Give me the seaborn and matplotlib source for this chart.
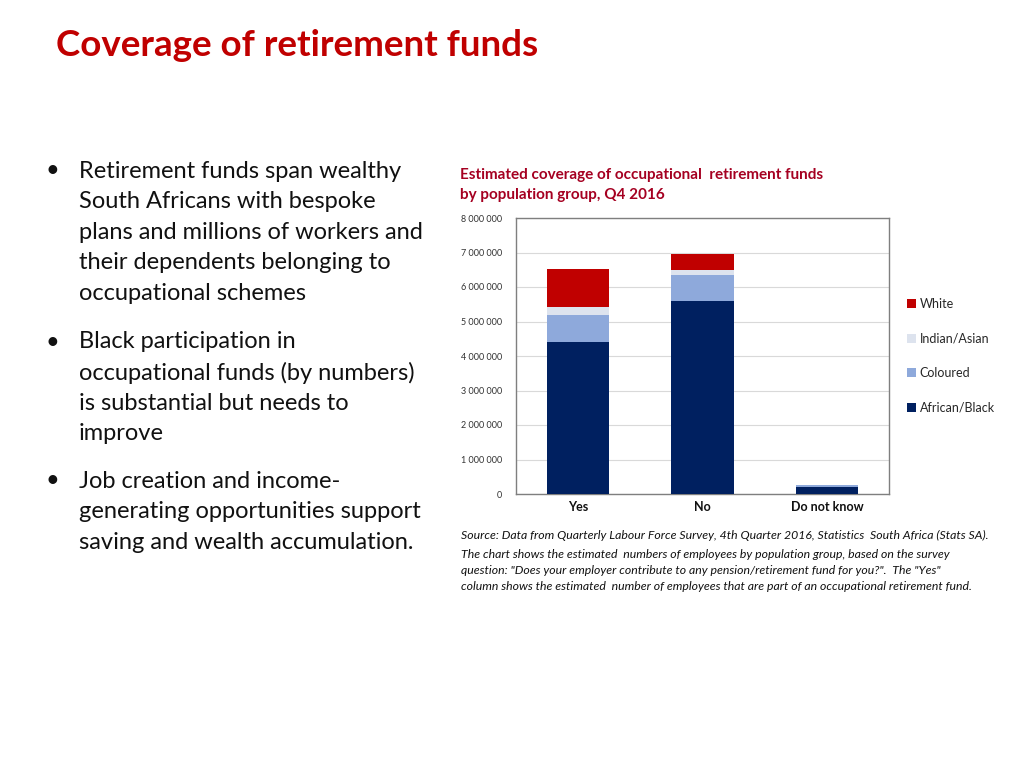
import matplotlib
matplotlib.use("Agg")
import matplotlib.pyplot as plt
import seaborn as sns
import numpy as np
import pandas as pd
from matplotlib.patches import Patch
from matplotlib.ticker import FuncFormatter, MultipleLocator

categories = ["Yes", "No", "Do not know"]
african_black = [4400000, 5580000, 200000]
coloured = [780000, 760000, 50000]
indian_asian = [250000, 160000, 10000]
white = [1080000, 460000, 10000]

series_names = ["African/Black", "Coloured", "Indian/Asian", "White"]
series_colors = ["#002060", "#8EA9DB", "#DDE3EE", "#C00000"]

sns.set_theme(style="white")
plt.rcParams['font.family'] = ['Lato', 'DejaVu Sans']

fig = plt.figure(figsize=(10.24, 7.68), dpi=100)

# Slide title
fig.text(56/1024, 1-46/768, "Coverage of retirement funds", color="#C00000",
         fontsize=26.5, fontweight="bold", va="center", ha="left")

# Bullets
bullets = [
    ["Retirement funds span wealthy", "South Africans with bespoke",
     "plans and millions of workers and", "their dependents belonging to",
     "occupational schemes"],
    ["Black participation in", "occupational funds (by numbers)",
     "is substantial but needs to", "improve"],
    ["Job creation and income-", "generating opportunities support",
     "saving and wealth accumulation."],
]
starts = [171, 342, 481]
for lines, y0 in zip(bullets, starts):
    fig.text(45/1024, 1-y0/768, "\u2022", fontsize=17, color="#111111", va="center", ha="left")
    for i, line in enumerate(lines):
        fig.text(79/1024, 1-(y0+i*30.6)/768, line, fontsize=17, color="#111111",
                 va="center", ha="left")

# Chart title
fig.text(460/1024, 1-175/768, "Estimated coverage of occupational  retirement funds",
         color="#A50021", fontsize=11, fontweight="bold", va="center", ha="left")
fig.text(460/1024, 1-195/768, "by population group, Q4 2016",
         color="#A50021", fontsize=11, fontweight="bold", va="center", ha="left")

ax = fig.add_axes([516/1024, 1-494/768, 373/1024, 276/768])

stack = np.cumsum(np.array([african_black, coloured, indian_asian, white]), axis=0)
for idx in range(len(series_names)-1, -1, -1):
    df = pd.DataFrame({"cat": categories, "val": stack[idx]})
    sns.barplot(data=df, x="cat", y="val", order=categories, color=series_colors[idx],
                width=0.5, saturation=1, ax=ax, edgecolor="none", linewidth=0, zorder=3)

ax.set_xlim(-0.5, 2.5)
ax.set_ylim(0, 8000000)
ax.yaxis.set_major_locator(MultipleLocator(1000000))
ax.yaxis.set_major_formatter(FuncFormatter(lambda v, p: f"{int(v):,}".replace(",", " ")))
ax.grid(axis="y", color="#D9D9D9", linewidth=0.8, zorder=0)
ax.set_axisbelow(True)
ax.set_xlabel("")
ax.set_ylabel("")
for s in ax.spines.values():
    s.set_visible(True)
    s.set_color("#7F7F7F")
    s.set_linewidth(1.0)
ax.tick_params(axis="y", labelsize=6.5, colors="#333333", length=0, pad=10)
ax.tick_params(axis="x", labelsize=9, colors="#111111", length=0, pad=5)
for lbl in ax.get_xticklabels():
    lbl.set_fontweight("bold")

handles = [Patch(facecolor=c, edgecolor="none", label=n)
           for n, c in zip(series_names[::-1], series_colors[::-1])]
ax.legend(handles=handles, loc="upper left", bbox_to_anchor=(1.035, 0.728),
          frameon=False, fontsize=9, handlelength=0.7, handleheight=0.7,
          handletextpad=0.3, labelspacing=1.8, borderaxespad=0)

# Source notes
fig.text(461/1024, 1-535/768,
         "Source: Data from Quarterly Labour Force Survey, 4th Quarter 2016, Statistics  South Africa (Stats SA).",
         fontsize=8.85, style="italic", color="#111111", va="center", ha="left")
notes = ["The chart shows the estimated  numbers of employees by population group, based on the survey",
         "question: \"Does your employer contribute to any pension/retirement fund for you?\".  The \"Yes\"",
         "column shows the estimated  number of employees that are part of an occupational retirement fund."]
for i, line in enumerate(notes):
    fig.text(461/1024, 1-(555+i*15.5)/768, line, fontsize=8.85, style="italic",
             color="#111111", va="center", ha="left")

fig.savefig("out.png", dpi=100)
